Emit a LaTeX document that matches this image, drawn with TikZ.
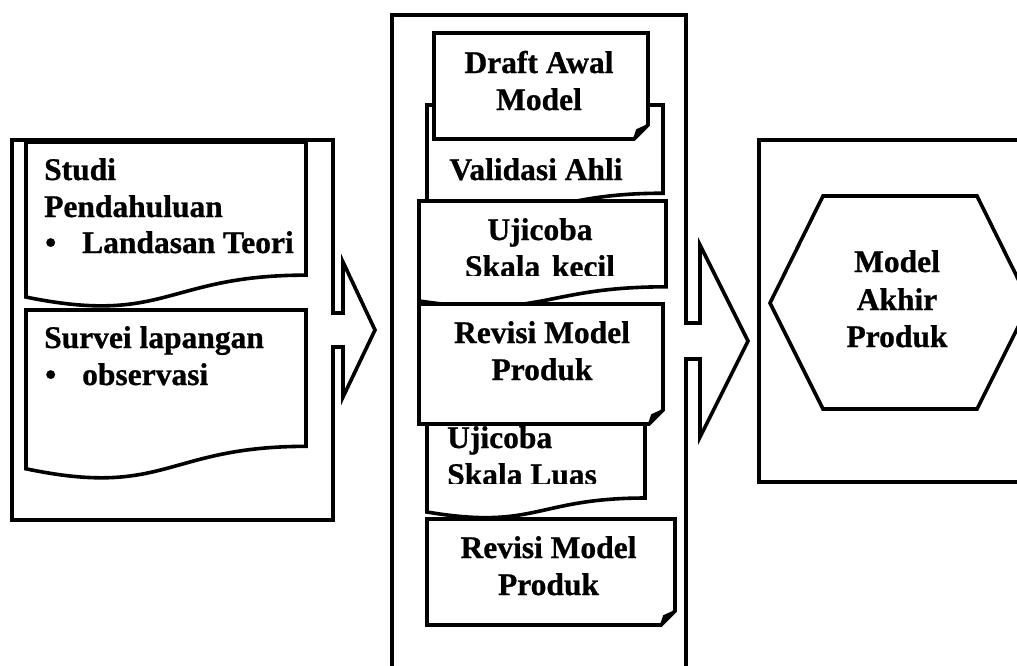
\documentclass[tikz,border=0pt]{standalone}
\usepackage{fontspec}
\setmainfont{Liberation Serif}[BoldFeatures={FakeBold=0.8}]
\newcommand\mydoc[4]{% x0 x1 y0 h
  \draw[shapefill] (#1,#3) -- (#2,#3) -- (#2,{#3+0.802*#4})
    .. controls ({(#1+#2)/2},{#3+0.802*#4}) and ({(#1+#2)/2},{#3+1.107*#4}) ..
    (#1,{#3+0.934*#4}) -- cycle;}
\newcommand\myfold[4]{% x0 y0 x1 y1
  \draw[shapefill] (#1,#2) -- (#3,#2) -- (#3,{#4-14}) -- ({#3-14},#4) -- (#1,#4) -- cycle;
  \draw[ln, line width=2pt, fill=black, line join=round]
    ({#3-14},#4) -- ({#3-11},{#4-9}) -- (#3,{#4-14}) -- cycle;}
\begin{document}
\begin{tikzpicture}[x=1pt,y=-1pt,
  ln/.style={line width=3.6pt, draw=black, line join=miter},
  shapefill/.style={ln, fill=white},
  txt/.style={font=\bfseries\fontsize{31.5}{36.5}\selectfont, inner sep=0pt, anchor=base},
  txtl/.style={txt, anchor=base west}]
\useasboundingbox (0,0) rectangle (1017,665);
\clip (0,0) rectangle (1017,665);

% ---------- left block ----------
\draw[ln] (12,140) rectangle (333,520);
\mydoc{26}{306}{142}{166}
\mydoc{26}{306}{310}{170}
\node[txtl] (studi) at (44,180) {Studi};
\node[txtl] (pend) at (44,217) {Pendahuluan};
\node[txtl] (b1) at (45,253) {•};
\node[txtl] (land) at (82,253) {Landasan Teori};
\node[txtl] (surv) at (44,348) {Survei lapangan};
\node[txtl] (b2) at (45,385) {•};
\node[txtl] (obs) at (82,385) {observasi};

% ---------- arrow 1 ----------
\fill[white] (329,313) -- (343,313) -- (343,262) -- (375,330) -- (343,397) -- (343,347) -- (329,347) -- cycle;
\draw[ln] (331.2,313) -- (343,313) -- (343,262) -- (375,330) -- (343,397) -- (343,347) -- (331.2,347);

% ---------- middle block ----------
\draw[ln] (392,15) rectangle (686,700);
\mydoc{427}{663}{105}{110}
\node[txt] (valid) at (536,180) {Validasi Ahli};
\myfold{434}{33}{648}{139}
\node[txt] (draft1) at (539,73) {Draft Awal};
\node[txt] (draft2) at (539,110) {Model};
\mydoc{419}{666}{201}{107}
\node[txt] (uk1) at (540,240) {Ujicoba};
\begin{scope}
  \clip (420,200) rectangle (665,275);
  \node[txt] (uk2) at (540,277) {Skala\hspace{0.12em} kecil};
\end{scope}
\mydoc{427}{645}{413}{106}
\node[txtl] (ul1) at (447,448) {Ujicoba};
\begin{scope}
  \clip (428,420) rectangle (644,483);
  \node[txtl] (ul2) at (447,485) {Skala Luas};
\end{scope}
\myfold{419}{304}{663}{424}
\node[txt] (rev1a) at (542,343) {Revisi Model};
\node[txt] (rev1b) at (542,380) {Produk};
\myfold{427}{519}{675}{625}
\node[txt] (rev2a) at (548.5,558) {Revisi Model};
\node[txt] (rev2b) at (548.5,595) {Produk};

% ---------- arrow 2 ----------
\fill[white] (682,323) -- (700,323) -- (700,245) -- (748,341) -- (700,437) -- (700,359) -- (682,359) -- cycle;
\draw[ln] (684.2,323) -- (700,323) -- (700,245) -- (748,341) -- (700,437) -- (700,359) -- (684.2,359);

% ---------- right block ----------
\draw[ln] (759,140) rectangle (1040,482);
\draw[ln] (823,196) -- (977,196) -- (1030,303) -- (977,409) -- (823,409) -- (770,303) -- cycle;
\node[txt] (m1) at (897,272) {Model};
\node[txt] (m2) at (897,310) {Akhir};
\node[txt] (m3) at (897,347) {Produk};
\end{tikzpicture}
\end{document}
